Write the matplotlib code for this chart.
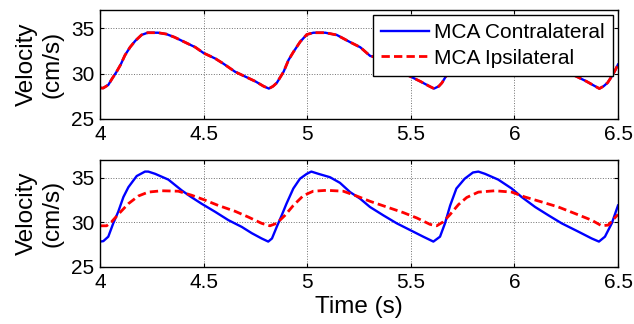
import matplotlib
matplotlib.use("Agg")
import matplotlib.pyplot as plt

plt.rcParams['font.family'] = ['Liberation Sans', 'DejaVu Sans']

# --- data ---
# top panel: contralateral and ipsilateral coincide
top_time = [4.000, 4.015, 4.040, 4.060, 4.080, 4.100, 4.120, 4.145, 4.170, 4.200,
            4.230, 4.280, 4.320, 4.360, 4.410, 4.460, 4.500, 4.556, 4.595, 4.652,
            4.700, 4.750, 4.790, 4.815,
            4.835, 4.853, 4.870, 4.886, 4.910, 4.934, 4.966, 4.998, 5.030, 5.087,
            5.143, 5.208, 5.256, 5.304, 5.356, 5.395, 5.450, 5.498, 5.546, 5.590,
            5.612,
            5.635, 5.650, 5.667, 5.684, 5.705, 5.725, 5.750, 5.775, 5.800, 5.828,
            5.880, 5.920, 5.960, 6.010, 6.060, 6.100, 6.155, 6.195, 6.250, 6.300,
            6.348, 6.390, 6.410, 6.430, 6.450, 6.470, 6.485, 6.500]
top_velocity = [28.43, 28.40, 28.75, 29.50, 30.20, 31.00, 32.00, 32.90, 33.60, 34.25,
                34.50, 34.50, 34.35, 34.00, 33.45, 32.90, 32.26, 31.66, 31.10, 30.20,
                29.68, 29.14, 28.60, 28.35,
                28.60, 28.97, 29.60, 30.20, 31.50, 32.40, 33.50, 34.30, 34.50, 34.50,
                34.25, 33.45, 32.90, 31.94, 31.66, 31.10, 30.20, 29.68, 29.14, 28.60,
                28.35,
                28.60, 28.97, 29.60, 30.20, 31.00, 32.00, 32.90, 33.60, 34.25, 34.50,
                34.50, 34.35, 34.00, 33.45, 32.90, 32.26, 31.66, 31.10, 30.20, 29.68,
                29.14, 28.60, 28.35, 28.60, 29.00, 29.70, 30.30, 31.00]

# bottom panel
contra_time = [4.000, 4.016, 4.040, 4.064, 4.088, 4.113, 4.137, 4.177, 4.217, 4.233,
               4.266, 4.330, 4.394, 4.440, 4.490, 4.555, 4.620, 4.684, 4.732, 4.780,
               4.812,
               4.830, 4.853, 4.877, 4.900, 4.933, 4.965, 4.998, 5.020, 5.054, 5.110,
               5.158, 5.207, 5.255, 5.303, 5.367, 5.432, 5.496, 5.560, 5.609,
               5.641, 5.665, 5.690, 5.720, 5.760, 5.800, 5.826, 5.858, 5.922, 5.987,
               6.035, 6.100, 6.164, 6.228, 6.309, 6.373, 6.408, 6.437, 6.470, 6.500]
contra_velocity = [27.85, 27.90, 28.40, 29.90, 31.20, 32.85, 33.95, 35.20, 35.70, 35.70,
                   35.45, 34.80, 33.60, 32.85, 32.10, 31.20, 30.25, 29.50, 28.80, 28.20,
                   27.85,
                   28.20, 29.50, 30.80, 32.10, 33.80, 34.90, 35.45, 35.70, 35.45, 35.07,
                   34.44, 33.40, 32.67, 31.73, 30.80, 29.90, 29.15, 28.40, 27.85,
                   28.40, 29.90, 31.90, 33.80, 34.90, 35.60, 35.70, 35.45, 34.80, 33.80,
                   32.85, 31.73, 30.80, 29.90, 28.96, 28.20, 27.85, 28.40, 29.90, 31.90]

ipsi_time = [4.000, 4.032, 4.056, 4.088, 4.137, 4.185, 4.233, 4.298, 4.378, 4.442,
             4.507, 4.571, 4.652, 4.716, 4.780, 4.820,
             4.853, 4.893, 4.933, 4.981, 5.029, 5.094, 5.174, 5.239, 5.303, 5.384,
             5.464, 5.529, 5.593, 5.625,
             5.657, 5.690, 5.730, 5.770, 5.826, 5.906, 5.987, 6.051, 6.131, 6.212,
             6.292, 6.373, 6.421, 6.453, 6.500]
ipsi_velocity = [29.62, 29.62, 30.07, 30.90, 32.10, 32.96, 33.40, 33.55, 33.50, 33.05,
                 32.50, 31.90, 31.25, 30.60, 29.90, 29.62,
                 29.90, 30.80, 31.90, 33.00, 33.50, 33.60, 33.50, 32.96, 32.37, 31.73,
                 31.10, 30.50, 29.78, 29.62,
                 30.07, 30.90, 32.00, 32.80, 33.40, 33.55, 33.40, 32.85, 32.30, 31.73,
                 31.00, 30.25, 29.62, 29.70, 30.90]

xticks = [4, 4.5, 5, 5.5, 6, 6.5]
xticklabels = ['4', '4.5', '5', '5.5', '6', '6.5']
yticks = [25, 30, 35]

fig = plt.figure(figsize=(6.34, 3.24), dpi=100)
ax1 = fig.add_axes([100 / 634, 1 - 119 / 324, 518 / 634, 109 / 324])
ax2 = fig.add_axes([100 / 634, 1 - 267 / 324, 518 / 634, 107 / 324])

blue_kw = dict(color=(0, 0, 1), lw=1.7, solid_joinstyle='round')
red_kw = dict(color=(1, 0, 0), lw=2.0, linestyle=(0, (3.0, 1.5)))

ax1.plot(top_time, top_velocity, label='MCA Contralateral', **blue_kw)
ax1.plot(top_time, top_velocity, label='MCA Ipsilateral', **red_kw)
ax2.plot(contra_time, contra_velocity, **blue_kw)
ax2.plot(ipsi_time, ipsi_velocity, **red_kw)

for ax in (ax1, ax2):
    ax.set_xlim(4, 6.5)
    ax.set_ylim(25, 37)
    ax.set_xticks(xticks)
    ax.set_xticklabels(xticklabels)
    ax.set_yticks(yticks)
    ax.grid(True, color='#707070', linestyle=':', linewidth=0.7)
    ax.tick_params(direction='in', length=3, width=0.8, top=True, right=True,
                   labelsize=15, pad=4)
    for s in ax.spines.values():
        s.set_linewidth(1.0)
        s.set_color('black')
    ax.set_ylabel('Velocity\n(cm/s)', fontsize=17.5, linespacing=1.25)
    ax.yaxis.set_label_coords(-0.07, 0.5)

ax2.set_xlabel('Time (s)', fontsize=17.5, labelpad=3)

leg = ax1.legend(loc='upper right', bbox_to_anchor=((613 - 100) / 518, (119 - 15) / 109),
                 borderaxespad=0, fontsize=15, fancybox=False, framealpha=1,
                 edgecolor='black', handlelength=2.3, handletextpad=0.25,
                 labelspacing=0.3, borderpad=0.4)
leg.get_frame().set_linewidth(1.0)

fig.savefig('out.png', dpi=100)
